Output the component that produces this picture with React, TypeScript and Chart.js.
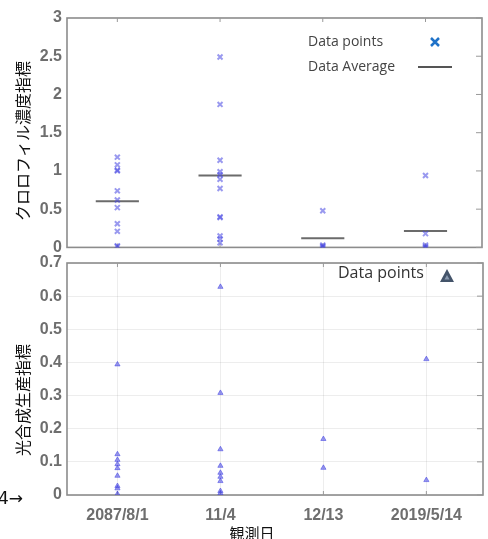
import React, { useEffect, useRef } from "react";
import { Chart, registerables } from "chart.js";

Chart.register(...registerables);

const categories = ["2087/8/1", "11/4", "12/13", "2019/5/14"];

// Top panel: chlorophyll concentration index (x markers)
const chloroPoints: number[][] = [
  [1.18, 1.08, 1.01, 1.0, 0.74, 0.62, 0.52, 0.31, 0.21, 0.02, 0.01],
  [2.49, 1.87, 1.14, 0.99, 0.95, 0.89, 0.77, 0.4, 0.39, 0.15, 0.11, 0.06],
  [0.48, 0.03, 0.015, 0.005],
  [0.94, 0.18, 0.03, 0.01, 0.0],
];
const chloroAverages = [0.605, 0.94, 0.12, 0.215];
const chloroTicks = { min: 0, max: 3, step: 0.5 };

// Bottom panel: photosynthetic production index (triangles)
const photoPoints: number[][] = [
  [0.394, 0.123, 0.106, 0.093, 0.081, 0.058, 0.027, 0.02, 0.003],
  [0.628, 0.308, 0.138, 0.088, 0.067, 0.055, 0.042, 0.012, 0.005],
  [0.169, 0.082],
  [0.41, 0.045],
];
const photoTicks = { min: 0, max: 0.7, step: 0.1 };

const yTitleTop = "クロロフィル濃度指標";
const yTitleBottom = "光合成生産指標";
const xTitle = "観測日";
const cornerText = "4→";
const legendTop = ["Data points", "Data Average"];
const legendBottom = "Data points";

const X_MIN = 0.51;
const X_MAX = 4.55;
const AVG_HALF = 0.21;

const markerColor = "rgba(70, 70, 225, 0.55)";
const tickFont = { family: "'Liberation Sans', Arial, sans-serif", size: 16, weight: "bold" as const };
const tickColor = "#6e6e6e";
const cjkFont = "'Noto Sans CJK JP', 'Noto Sans', sans-serif";

const fmt = (v: any) => String(Number(Number(v).toFixed(2)));

function framePlugin(id: string) {
  return {
    id,
    beforeDatasetsDraw(chart: any) {
      const { ctx, chartArea } = chart;
      const { left, right, top, bottom } = chartArea;
      ctx.save();
      ctx.strokeStyle = "#8c8c8c";
      ctx.lineWidth = 1.6;
      ctx.strokeRect(left, top, right - left, bottom - top);
      ctx.lineWidth = 1;
      ctx.strokeStyle = "#999";
      const ys = chart.scales.y;
      ys.ticks.forEach((t: any) => {
        const y = ys.getPixelForValue(t.value);
        ctx.beginPath();
        ctx.moveTo(right - 6, y);
        ctx.lineTo(right, y);
        ctx.stroke();
      });
      const xs = chart.scales.x;
      categories.forEach((_, i) => {
        const x = xs.getPixelForValue(i + 1);
        ctx.beginPath();
        ctx.moveTo(x, top);
        ctx.lineTo(x, top + 4);
        ctx.moveTo(x, bottom - 4);
        ctx.lineTo(x, bottom);
        ctx.stroke();
      });
      ctx.restore();
    },
  };
}

const topTextPlugin = {
  id: "topText",
  afterDraw(chart: any) {
    const { ctx } = chart;
    ctx.save();
    ctx.translate(23, 141);
    ctx.rotate(-Math.PI / 2);
    ctx.font = `16px ${cjkFont}`;
    ctx.fillStyle = "#111";
    ctx.textAlign = "center";
    ctx.textBaseline = "middle";
    ctx.fillText(yTitleTop, 0, 0);
    ctx.restore();

    ctx.save();
    ctx.font = "14px 'Open Sans', sans-serif";
    ctx.fillStyle = "#444";
    ctx.textAlign = "left";
    ctx.textBaseline = "middle";
    ctx.fillText(legendTop[0], 308, 42);
    ctx.fillText(legendTop[1], 308, 67);
    ctx.strokeStyle = "#1f72c8";
    ctx.lineWidth = 2.5;
    ctx.beginPath();
    ctx.moveTo(431, 38);
    ctx.lineTo(439, 46);
    ctx.moveTo(439, 38);
    ctx.lineTo(431, 46);
    ctx.stroke();
    ctx.strokeStyle = "#555";
    ctx.lineWidth = 2;
    ctx.beginPath();
    ctx.moveTo(418, 67);
    ctx.lineTo(452, 67);
    ctx.stroke();
    ctx.restore();
  },
};

const BOTTOM_TOP = 240;

const bottomTextPlugin = {
  id: "bottomText",
  afterDraw(chart: any) {
    const { ctx } = chart;
    ctx.save();
    ctx.translate(23, 400 - BOTTOM_TOP);
    ctx.rotate(-Math.PI / 2);
    ctx.font = `16px ${cjkFont}`;
    ctx.fillStyle = "#111";
    ctx.textAlign = "center";
    ctx.textBaseline = "middle";
    ctx.fillText(yTitleBottom, 0, 0);
    ctx.restore();

    ctx.save();
    ctx.font = `15px ${cjkFont}`;
    ctx.fillStyle = "#111";
    ctx.textAlign = "center";
    ctx.textBaseline = "middle";
    ctx.fillText(xTitle, 252, 533 - BOTTOM_TOP);
    ctx.font = "17px 'DejaVu Sans', sans-serif";
    ctx.textAlign = "right";
    ctx.fillText(cornerText, 23, 500 - BOTTOM_TOP);

    ctx.font = "16px 'Open Sans', sans-serif";
    ctx.fillStyle = "#333";
    ctx.textAlign = "left";
    ctx.fillText(legendBottom, 338, 273 - BOTTOM_TOP);
    ctx.fillStyle = "#44546a";
    const cx = 447;
    const cy = 276 - BOTTOM_TOP;
    ctx.beginPath();
    ctx.moveTo(cx, cy - 7);
    ctx.lineTo(cx + 7, cy + 6);
    ctx.lineTo(cx - 7, cy + 6);
    ctx.closePath();
    ctx.fill();
    ctx.fillStyle = "#8a9ab0";
    ctx.beginPath();
    ctx.moveTo(cx, cy - 1);
    ctx.lineTo(cx + 2.5, cy + 3.5);
    ctx.lineTo(cx - 2.5, cy + 3.5);
    ctx.closePath();
    ctx.fill();
    ctx.restore();
  },
};

function toPoints(series: number[][]) {
  const out: { x: number; y: number }[] = [];
  series.forEach((vals, i) => vals.forEach((v) => out.push({ x: i + 1, y: v })));
  return out;
}

export default function App() {
  const topRef = useRef<HTMLCanvasElement>(null);
  const botRef = useRef<HTMLCanvasElement>(null);

  useEffect(() => {
    const avgDatasets = chloroAverages.map((a, i) => ({
      type: "scatter" as const,
      data: [
        { x: i + 1 - AVG_HALF, y: a },
        { x: i + 1 + AVG_HALF, y: a },
      ],
      showLine: true,
      borderColor: "#6b6b6b",
      borderWidth: 2,
      pointRadius: 0,
      order: 2,
    }));

    const top = new Chart(topRef.current!, {
      type: "scatter",
      data: {
        datasets: [
          {
            data: toPoints(chloroPoints),
            pointStyle: "crossRot",
            pointRadius: 3.5,
            borderColor: markerColor,
            backgroundColor: markerColor,
            borderWidth: 2,
            order: 1,
          },
          ...avgDatasets,
        ] as any,
      },
      options: {
        responsive: false,
        animation: false,
        events: [],
        layout: { padding: { top: 18, bottom: 11, left: 0, right: 1 } },
        plugins: { legend: { display: false }, tooltip: { enabled: false } },
        scales: {
          x: { type: "linear", min: X_MIN, max: X_MAX, display: false },
          y: {
            min: chloroTicks.min,
            max: chloroTicks.max,
            ticks: { stepSize: chloroTicks.step, font: tickFont, color: tickColor, padding: 5, callback: fmt },
            grid: { display: false, drawTicks: false },
            border: { display: false },
            afterFit: (s: any) => {
              s.width = 67;
            },
          },
        },
      },
      plugins: [framePlugin("frameTop"), topTextPlugin],
    });

    const bottom = new Chart(botRef.current!, {
      type: "scatter",
      data: {
        datasets: [
          {
            data: toPoints(photoPoints),
            pointStyle: "triangle",
            pointRadius: 3,
            borderColor: markerColor,
            backgroundColor: markerColor,
            borderWidth: 1,
          },
        ],
      },
      options: {
        responsive: false,
        animation: false,
        events: [],
        layout: { padding: { top: 23, bottom: 0, left: 0, right: 1 } },
        plugins: { legend: { display: false }, tooltip: { enabled: false } },
        scales: {
          x: {
            type: "linear",
            min: X_MIN,
            max: X_MAX,
            afterBuildTicks: (s: any) => {
              s.ticks = categories.map((_, i) => ({ value: i + 1 }));
            },
            ticks: {
              font: tickFont,
              color: tickColor,
              padding: 11,
              maxRotation: 0,
              autoSkip: false,
              callback: (v: any) => categories[Math.round(Number(v)) - 1] ?? "",
            },
            grid: { color: "rgba(0,0,0,0.07)", drawTicks: false },
            border: { display: false },
            afterFit: (s: any) => {
              s.height = 44;
            },
          },
          y: {
            min: photoTicks.min,
            max: photoTicks.max,
            ticks: { stepSize: photoTicks.step, font: tickFont, color: tickColor, padding: 5, callback: fmt },
            grid: { color: "rgba(0,0,0,0.07)", drawTicks: false },
            border: { display: false },
            afterFit: (s: any) => {
              s.width = 67;
            },
          },
        },
      },
      plugins: [framePlugin("frameBottom"), bottomTextPlugin],
    });

    return () => {
      top.destroy();
      bottom.destroy();
    };
  }, []);

  return (
    <div style={{ position: "absolute", left: 0, top: 0, width: 488, height: 539, background: "#fff", overflow: "hidden" }}>
      <canvas ref={topRef} width={488} height={262} style={{ position: "absolute", left: 0, top: 0, width: 488, height: 262 }} />
      <canvas
        ref={botRef}
        width={488}
        height={299}
        style={{ position: "absolute", left: 0, top: BOTTOM_TOP, width: 488, height: 299 }}
      />
    </div>
  );
}
